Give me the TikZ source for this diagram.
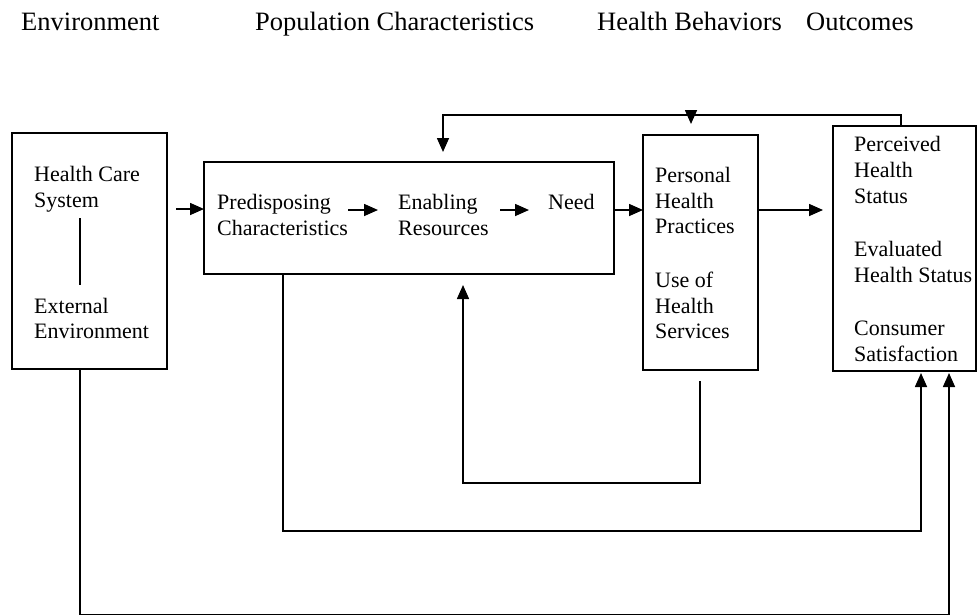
\documentclass[tikz,border=0pt]{standalone}
\usepackage{fontspec}
\setmainfont{Liberation Serif}
\usetikzlibrary{arrows.meta}
\begin{document}
\begin{tikzpicture}[x=1pt,y=-1pt,
  box/.style={draw, line width=1.6pt, rectangle, anchor=north west, inner sep=0pt, outer sep=0pt},
  lbl/.style={anchor=base west, inner sep=0pt, font=\fontsize{22}{26}\selectfont},
  head/.style={anchor=base west, inner sep=0pt, font=\fontsize{26.5}{30}\selectfont},
  conn/.style={line width=1.6pt},
  arr/.style={line width=1.6pt, -{Triangle[length=14pt,width=12pt]}}]
\useasboundingbox (0,0) rectangle (978,616);
% headings
\node[head] (h1) at (21,30) {Environment};
\node[head] (h2) at (255,30) {Population Characteristics};
\node[head] (h3) at (597,30) {Health Behaviors};
\node[head] (h4) at (806,30) {Outcomes};
% boxes
\node[box, minimum width=155pt, minimum height=236pt] (b1) at (12,133) {};
\node[box, minimum width=410pt, minimum height=112pt] (b2) at (204,162) {};
\node[box, minimum width=115pt, minimum height=235pt] (b3) at (643,135) {};
\node[box, minimum width=143pt, minimum height=245pt] (b4) at (833,126) {};
% box 1 text
\node[lbl] (t11) at (34,181) {Health Care};
\node[lbl] (t12) at (34,207) {System};
\node[lbl] (t13) at (34,313) {External};
\node[lbl] (t14) at (34,338) {Environment};
\coordinate (v1a) at (80,218);
\coordinate (v1b) at (80,285);
\draw[conn] (v1a) -- (v1b);
% box 2 text
\node[lbl] (t21) at (217,209) {Predisposing};
\node[lbl] (t22) at (217,235) {Characteristics};
\node[lbl] (t23) at (398,209) {Enabling};
\node[lbl] (t24) at (398,235) {Resources};
\node[lbl] (t25) at (548,209) {Need};
% box 3 text
\node[lbl] (t31) at (655,182) {Personal};
\node[lbl] (t32) at (655,208) {Health};
\node[lbl] (t33) at (655,233) {Practices};
\node[lbl] (t34) at (655,287) {Use of};
\node[lbl] (t35) at (655,313) {Health};
\node[lbl] (t36) at (655,338) {Services};
% box 4 text
\node[lbl] (t41) at (854,151) {Perceived};
\node[lbl] (t42) at (854,177) {Health};
\node[lbl] (t43) at (854,203) {Status};
\node[lbl] (t44) at (854,256) {Evaluated};
\node[lbl] (t45) at (854,282) {Health Status};
\node[lbl] (t46) at (854,335) {Consumer};
\node[lbl] (t47) at (854,361) {Satisfaction};
% forward arrows
\coordinate (a1s) at (176,209);
\draw[arr] (a1s) -- (b2.west |- a1s);
\coordinate (a2s) at (348,210);
\coordinate (a2e) at (378,210);
\draw[arr] (a2s) -- (a2e);
\coordinate (a3s) at (500,210);
\coordinate (a3e) at (529,210);
\draw[arr] (a3s) -- (a3e);
\coordinate (a4) at (0,210);
\draw[arr] (b2.east |- a4) -- (b3.west |- a4);
\coordinate (a5e) at (823,210);
\draw[arr] (b3.east |- a5e) -- (a5e);
% top feedback
\coordinate (top) at (0,115);
\coordinate (f1e) at (443,152);
\coordinate (f2e) at (691,124);
\draw[arr] (b4.north -| 901,0) |- (f1e |- top) -- (f1e);
\draw[arr] (f2e |- top) -- (f2e);
% bottom loops
\coordinate (g1s) at (700,381);
\coordinate (g1e) at (463,285);
\draw[arr] (g1s) |- (g1e |- 0,483) -- (g1e);
\coordinate (g2e) at (921,373);
\draw[arr] (b2.south -| 283,0) |- (g2e |- 0,531) -- (g2e);
\coordinate (g3e) at (949,373);
\draw[arr] (b1.south -| 80,0) |- (g3e |- 0,614.5) -- (g3e);
\end{tikzpicture}
\end{document}
